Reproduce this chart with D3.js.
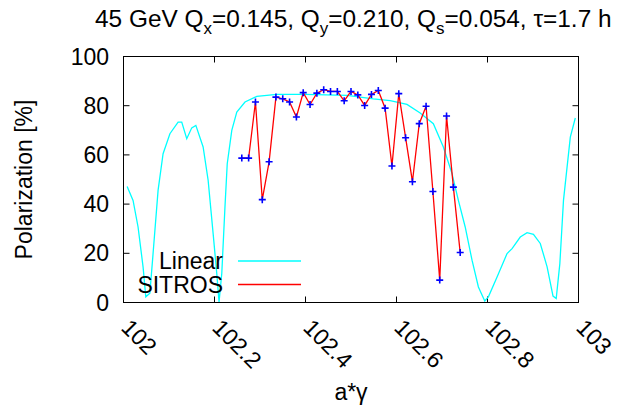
<!DOCTYPE html>
<html>
<head>
<meta charset="utf-8">
<script src="https://cdn.jsdelivr.net/npm/d3@7"></script>
<style>
  html, body { margin: 0; padding: 0; background: #fff; }
  text { font-family: "Liberation Sans", Arial, Helvetica, sans-serif; fill: #000; }
</style>
</head>
<body>
<svg id="chart" width="617" height="414"></svg>
<script>
// ---- data ----
const linearX = [102.008,102.021,102.032,102.043,102.049,102.058,102.065,102.076,102.087,102.102,102.120,102.128,102.139,102.150,102.159,102.175,102.186,102.197,102.205,102.210,102.216,102.223,102.228,102.238,102.249,102.267,102.293,102.337,102.399,102.492,102.549,102.586,102.623,102.652,102.681,102.703,102.722,102.736,102.751,102.766,102.780,102.794,102.802,102.821,102.843,102.854,102.872,102.887,102.901,102.916,102.931,102.944,102.951,102.959,102.967,102.982,102.993];
const linearP = [47.2,41.5,30.7,14.5,2.3,3.8,19.9,45.6,60.5,68.6,73.3,73.3,66.6,71.0,72.0,63.2,49.7,28.0,11.8,0.2,11.8,38.8,56.4,70.0,77.4,81.5,83.8,84.6,84.6,84.2,82.8,82.1,80.5,77.0,72.7,63.2,52.4,41.5,30.7,17.2,6.3,0.6,2.3,10.4,19.9,21.9,26.6,28.4,27.7,24.0,14.5,2.6,1.6,15.8,41.5,67.2,75.0];

const sitrosX = [102.260,102.275,102.290,102.305,102.320,102.335,102.350,102.365,102.380,102.395,102.410,102.425,102.440,102.455,102.470,102.485,102.500,102.515,102.530,102.545,102.560,102.575,102.590,102.605,102.620,102.635,102.650,102.665,102.680,102.695,102.710,102.725,102.740];
const sitrosP = [58.7,58.7,81.5,41.8,57.2,83.5,82.8,81.5,75.4,85.3,80.5,85.1,86.5,85.8,85.8,82.0,85.8,84.4,80.1,84.6,86.2,79.0,55.5,84.9,67.0,49.1,72.7,79.8,45.1,9.1,75.8,46.9,20.3];

const xTicks = [102, 102.2, 102.4, 102.6, 102.8, 103];
const xTickLabels = ["102", "102.2", "102.4", "102.6", "102.8", "103"];
const yTicks = [0, 20, 40, 60, 80, 100];
const seriesNames = ["Linear", "SITROS"];
const seriesColors = ["#00ffff", "#ff0000"];

// ---- layout ----
const L = 123.5, R = 578.5, T = 56.5, B = 302.5;
const svg = d3.select("#chart");
const x = d3.scaleLinear().domain([102, 103]).range([L, R]);
const y = d3.scaleLinear().domain([0, 100]).range([B, T]);

svg.append("defs").append("clipPath").attr("id", "clip")
  .append("rect").attr("x", L).attr("y", T).attr("width", R - L).attr("height", B - T);

// ticks (inward, mirrored)
const tickLen = 6;
const g = svg.append("g");
yTicks.forEach(v => {
  g.append("line").attr("x1", L).attr("x2", L + tickLen).attr("y1", y(v)).attr("y2", y(v)).attr("stroke", "#000");
  g.append("line").attr("x1", R).attr("x2", R - tickLen).attr("y1", y(v)).attr("y2", y(v)).attr("stroke", "#000");
  svg.append("text").attr("x", 109).attr("y", y(v) + 8).attr("text-anchor", "end")
    .style("font-size", "23px").text(v);
});
xTicks.forEach((v, i) => {
  g.append("line").attr("x1", x(v)).attr("x2", x(v)).attr("y1", B).attr("y2", B - tickLen).attr("stroke", "#000");
  g.append("line").attr("x1", x(v)).attr("x2", x(v)).attr("y1", T).attr("y2", T + tickLen).attr("stroke", "#000");
  svg.append("text").attr("transform", `translate(${x(v) - 3.5},${329}) rotate(45)`)
    .attr("text-anchor", "start").style("font-size", "23px").text(xTickLabels[i]);
});

// curves
const plot = svg.append("g").attr("clip-path", "url(#clip)");
const linearData = linearX.map((v, i) => [v, linearP[i]]);
const sitrosData = sitrosX.map((v, i) => [v, sitrosP[i]]);
const line = d3.line().x(d => x(d[0])).y(d => y(d[1]));
plot.append("path").datum(linearData).attr("d", line)
  .attr("fill", "none").attr("stroke", seriesColors[0]).attr("stroke-width", 1.3);
plot.append("path").datum(sitrosData).attr("d", line)
  .attr("fill", "none").attr("stroke", seriesColors[1]).attr("stroke-width", 1.3);
const m = 3.5;
plot.selectAll("g.pt").data(sitrosData).enter().append("g").attr("class", "pt")
  .each(function(d) {
    const s = d3.select(this);
    const cx = x(d[0]), cy = y(d[1]);
    s.append("line").attr("x1", cx - m).attr("x2", cx + m).attr("y1", cy).attr("y2", cy).attr("stroke", "#0000ff").attr("stroke-width", 1.6);
    s.append("line").attr("x1", cx).attr("x2", cx).attr("y1", cy - m).attr("y2", cy + m).attr("stroke", "#0000ff").attr("stroke-width", 1.6);
  });

// legend
const legBase = [269, 293];
const legLine = [261, 284.5];
seriesNames.forEach((name, i) => {
  svg.append("text").attr("x", 223).attr("y", legBase[i]).attr("text-anchor", "end")
    .style("font-size", "23px").text(name);
  svg.append("line").attr("x1", 238).attr("x2", 301).attr("y1", legLine[i]).attr("y2", legLine[i])
    .attr("stroke", seriesColors[i]).attr("stroke-width", 1.3);
});

// frame
svg.append("rect").attr("x", L).attr("y", T).attr("width", R - L).attr("height", B - T)
  .attr("fill", "none").attr("stroke", "#000").attr("stroke-width", 1);

// title
const title = svg.append("text").attr("x", 95).attr("y", 27).attr("text-anchor", "start").style("font-size", "24.4px");
const parts = [["45 GeV Q", false], ["x", true], ["=0.145, Q", false], ["y", true], ["=0.210, Q", false], ["s", true], ["=0.054, τ=1.7 h", false]];
parts.forEach(([t, sub], i) => {
  const ts = title.append("tspan").text(t);
  if (sub) ts.attr("dy", 7).style("font-size", "17px");
  else if (i > 0) ts.attr("dy", -7);
});

// axis labels
svg.append("text").attr("transform", `translate(32,${(T + B) / 2}) rotate(-90)`)
  .attr("text-anchor", "middle").style("font-size", "23px").text("Polarization [%]");
svg.append("text").attr("x", 351).attr("y", 400).attr("text-anchor", "middle")
  .style("font-size", "23px").text("a*γ");
</script>
</body>
</html>
